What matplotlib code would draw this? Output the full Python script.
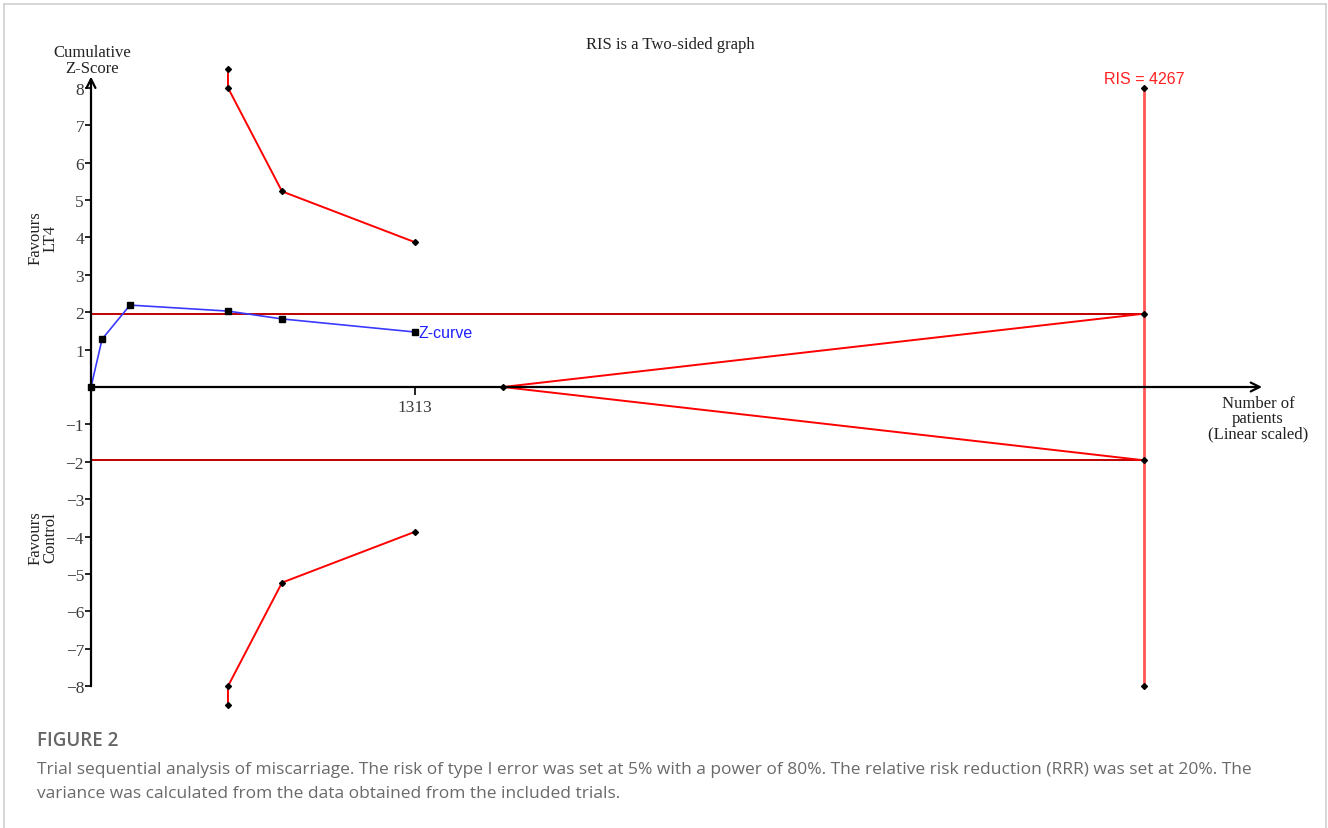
import numpy as np
import matplotlib
matplotlib.use('Agg')
import matplotlib.pyplot as plt
from matplotlib.lines import Line2D

# cumulative z-curve (number of patients, z-score)
patients = [0, 45, 158, 555, 774, 1313]
z_scores = [0, 1.28, 2.19, 2.03, 1.82, 1.47]

# monitoring boundaries
bound_n = [555, 555, 774, 1313]
bound_upper = [8.5, 8.0, 5.23, 3.87]
bound_lower = [-8.5, -8.0, -5.23, -3.87]

ris = 4267
z_crit = 1.96
wedge_start = 1669
y_ticks = [-8, -7, -6, -5, -4, -3, -2, -1, 1, 2, 3, 4, 5, 6, 7, 8]

W, H = 1328, 829
serif = 'Liberation Serif'
sans = 'Liberation Sans'

fig = plt.figure(figsize=(W / 100, H / 100), dpi=100)


def fx(x):
    return x / W


def fy(y):
    return 1 - y / H


# axes placed in pixels: x=0 at 91px, 0.2468 px per patient; y=0 at 388px, 37.4 px per unit
left, right, top, bottom = 91, 1300, 40, 720
ax = fig.add_axes([fx(left), fy(bottom), (right - left) / W, (bottom - top) / H])
ax.set_xlim(0, (right - left) / 0.2468)
ax.set_ylim(-(bottom - 388) / 37.4, (388 - top) / 37.4)
for sp in ax.spines.values():
    sp.set_visible(False)
ax.spines['bottom'].set_position(('data', 0))

# axes drawn as arrows
arr = dict(arrowstyle='->', color='black', lw=1.6, shrinkA=0, shrinkB=0, mutation_scale=16)
ax.annotate('', xy=(0, 8.3), xytext=(0, -8.0), arrowprops=arr, annotation_clip=False)
ax.annotate('', xy=(4745, 0), xytext=(0, 0), arrowprops=arr, annotation_clip=False)

ax.set_yticks(y_ticks)
ax.set_yticklabels([str(t).replace('-', '\u2212') for t in y_ticks], family=serif, fontsize=12.5, color='#3a3a3a')
ax.set_xticks([1313])
ax.set_xticklabels(['1313'], family=serif, fontsize=12.5, color='#3a3a3a')
ax.tick_params(axis='y', direction='out', length=4, width=1.2, pad=1)
ax.tick_params(axis='x', direction='out', length=6, width=1.2, pad=3)

# critical value lines and futility wedge
ax.plot([0, ris], [z_crit, z_crit], color='#C00000', lw=1.4)
ax.plot([0, ris], [-z_crit, -z_crit], color='#C00000', lw=1.4)
ax.plot([wedge_start, ris], [0, z_crit], color='#FF0000', lw=1.4)
ax.plot([wedge_start, ris], [0, -z_crit], color='#FF0000', lw=1.4)
ax.plot([wedge_start], [0], marker='D', ms=3, color='black', ls='none')

# required information size
ax.plot([ris, ris], [-8, 8], color='#FF5555', lw=2)
ax.plot([ris] * 4, [8, z_crit, -z_crit, -8], marker='D', ms=3, color='black', ls='none')
ax.text(ris, 8.24, 'RIS = 4267', color='#FF2020', family=sans, fontsize=11.5, ha='center', va='center')

# boundaries
ax.plot(bound_n, bound_upper, color='#FF0000', lw=1.4, marker='D', ms=3, mfc='black', mec='black')
ax.plot(bound_n, bound_lower, color='#FF0000', lw=1.4, marker='D', ms=3, mfc='black', mec='black')

# z-curve
ax.plot(patients, z_scores, color='#3A3AFF', lw=1.2, marker='s', ms=5, mfc='black', mec='black', clip_on=False)
ax.text(patients[-1] + 12, z_scores[-1], 'Z-curve', color='#2020FF', family=sans, fontsize=11.5, ha='left', va='center')

# labels around the axes
fig.text(fx(670), fy(45), 'RIS is a Two-sided graph', family=serif, fontsize=12, ha='center', va='center', color='#222222')
fig.text(fx(92), fy(61), 'Cumulative\nZ-Score', family=serif, fontsize=12, ha='center', va='center',
         linespacing=0.95, color='#222222')
fig.text(fx(43), fy(238), 'Favours\nLT4', family=serif, fontsize=12, ha='center', va='center', rotation=90,
         linespacing=0.95, color='#222222')
fig.text(fx(43), fy(538), 'Favours\nControl', family=serif, fontsize=12, ha='center', va='center', rotation=90,
         linespacing=0.95, color='#222222')
fig.text(fx(1258), fy(419), 'Number of\npatients\n(Linear scaled)', family=serif, fontsize=12, ha='center',
         va='center', linespacing=0.95, color='#222222')

# caption
fig.text(fx(37), fy(741), 'FIGURE 2', family='Open Sans', fontsize=13.5, fontweight='semibold', color='#666666',
         ha='left', va='center')
fig.text(fx(37), fy(770), 'Trial sequential analysis of miscarriage. The risk of type I error was set at 5% with a power of 80%. '
         'The relative risk reduction (RRR) was set at 20%. The', family='Open Sans', fontsize=12.5,
         color='#6a6a6a', ha='left', va='center')
fig.text(fx(37), fy(794), 'variance was calculated from the data obtained from the included trials.',
         family='Open Sans', fontsize=12.5, color='#6a6a6a', ha='left', va='center')

# panel frame
for xs, ys in [([4, 4], [5, H]), ([4, 1326], [5, 5]), ([1326, 1326], [5, H])]:
    fig.add_artist(Line2D([fx(x) for x in xs], [fy(y) for y in ys], color='#d0d0d0', lw=1.2))

fig.savefig('out.png', dpi=100)
